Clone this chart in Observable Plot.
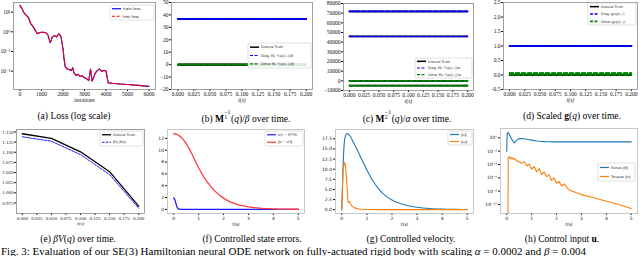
<!DOCTYPE html>
<html><head><meta charset="utf-8">
<script src="https://cdn.jsdelivr.net/npm/d3@7"></script>
<script src="https://cdn.jsdelivr.net/npm/@observablehq/plot@0.6"></script>
<style>
html,body{margin:0;padding:0;background:#fff;width:640px;height:256px;overflow:hidden;}
#wrap{position:relative;width:640px;height:256px;}
.cap{position:absolute;font-family:"Liberation Serif","DejaVu Serif",serif;font-size:9.5px;white-space:nowrap;transform:translateX(-50%);color:#000;line-height:1;}
.ss{display:inline-block;position:relative;width:0.75em;height:1em;vertical-align:baseline;}
.ss .u{position:absolute;left:0.05em;top:-0.3em;font-size:0.62em;line-height:1;}
.ss .d{position:absolute;left:0.05em;top:0.55em;font-size:0.62em;line-height:1;}
.fig{position:absolute;left:1px;top:246px;font-family:"Liberation Serif","DejaVu Serif",serif;font-size:11px;white-space:nowrap;color:#000;line-height:1;}
#over{position:absolute;left:0;top:0;pointer-events:none;}
</style></head><body><div id="wrap"></div>
<script>
// ---------- DATA ----------
const lossIterations = [0,100,200,300,400,500,600,700,800,900,1000,1100,1200,1300,1400,1450,1500,1600,1700,1800,1900,1950,2000,2050,2100,2200,2300,2400,2450,2500,2600,2700,2800,2900,3000,3100,3200,3250,3280,3320,3350,3400,3500,3600,3700,3800,3900,4000,4050,4100,4500,5000,5500,6000];
const trainLoss = [22,15,8.9,6.8,5.2,2.6,1.9,1.26,0.8,0.9,0.95,0.95,0.9,0.7,0.28,0.35,0.55,0.64,0.55,0.8,0.6,0.3,0.14,0.042,0.017,0.013,0.012,0.011,0.015,0.009,0.006,0.007,0.0053,0.006,0.0046,0.004,0.0034,0.008,0.013,0.006,0.0031,0.004,0.008,0.011,0.013,0.0097,0.011,0.0103,0.005,0.0025,0.0023,0.0021,0.0019,0.0017];
const testLoss = [21.5,14.6,8.7,6.9,5.1,2.55,1.92,1.24,0.81,0.9,0.94,0.96,0.89,0.71,0.29,0.36,0.54,0.63,0.56,0.79,0.61,0.31,0.14,0.043,0.017,0.0128,0.0121,0.0112,0.0148,0.0091,0.0061,0.0069,0.0054,0.0059,0.0047,0.0041,0.0035,0.0079,0.0127,0.0061,0.0032,0.0041,0.0079,0.0108,0.0128,0.0098,0.0109,0.0102,0.0051,0.0026,0.0023,0.0021,0.0019,0.0017];

const matTime = [0,0.025,0.05,0.075,0.1,0.125,0.15,0.175,0.2];
const m1TruthValues = [36.6,36.6,36.6,0,0,0];
const m1DiagValues = [36.5,36.7,36.6];
const m1OtherValues = [0.1,-0.1,0.05];
const m2TruthValues = [71800,71800,46000,0,-5000];
const m2DiagValues = [71700,71900,45900];
const m2OtherValues = [200,-100,-5100,-4900];
const gTruthValues = [1,1,1,0,0];
const gDiagValues = [1.0,1.01,0.99];
const gOtherValues = [0.0,0.01,0.06,0.07];

const vTime = [0,0.05,0.1,0.15,0.2];
const vTruth = [1.1455,1.134,1.101,1.052,0.967];
const vLearned = [1.138,1.127,1.094,1.045,0.962];

const ctrlTime = [0,0.05,0.1,0.15,0.2,0.25,0.3,0.35,0.4,0.5,0.6,0.75,1,1.25,1.5,1.75,2,2.25,2.5,2.75,3,3.5,4,4.5,5];
const rotError = [1.95,1.6,0.8,0.25,0.06,0.02,0.01,0.005,0.003,0.002,0.001,0,0,0,0,0,0,0,0,0,0,0,0,0,0];
const posError = [12.8,12.78,12.72,12.62,12.5,12.35,12.15,11.95,11.7,11.1,10.4,9.2,7.0,5.2,3.8,2.7,1.9,1.3,0.9,0.62,0.42,0.18,0.08,0.035,0.015];
const linVel = [0,10.5,16.5,18.3,18.8,18.7,18.4,18.0,17.4,16.2,15.0,13.0,9.8,7.0,4.9,3.4,2.4,1.7,1.2,0.85,0.6,0.28,0.13,0.06,0.03];
const angVel = [0,9.5,11.7,10.8,6.5,1.8,2.0,1.4,0.9,0.5,0.25,0.1,0.04,0.02,0.01,0,0,0,0,0,0,0,0,0,0];

const uTime = [0,0.02,0.05,0.06,0.1,0.15,0.2,0.25,0.3,0.4,0.5,0.6,0.7,0.8,0.9,1.0,1.1,1.2,1.3,1.4,1.5,1.6,1.7,1.8,1.9,2.0,2.1,2.2,2.3,2.5,2.75,3.0,3.5,4.0,4.5,5.0];
const forceNorm = [0.01,5,6.3,6,3.5,1.5,0.6,0.3,0.18,0.45,0.75,0.78,0.72,0.62,0.53,0.45,0.38,0.33,0.3,0.28,0.27,0.26,0.26,0.25,0.25,0.25,0.25,0.25,0.25,0.25,0.25,0.25,0.25,0.25,0.25,0.25];
const torqueNorm = [1e-14,1e-14,1e-14,1.0e-3,1.5e-3,7e-4,1.2e-3,6e-4,8e-4,3.5e-4,2.5e-4,1.5e-4,3e-4,6e-5,1.2e-4,2e-5,5e-5,8e-6,2.5e-5,3e-6,8e-6,1.5e-6,3e-6,4e-7,1e-6,1.5e-7,3e-7,6e-8,1.2e-7,1.5e-8,7e-9,3e-9,1e-9,3e-10,1e-10,2.5e-11];

const lossTicks = [10,1,0.1,0.01];
const iterTicks = [0,1000,2000,3000,4000,5000,6000];
const shortTicks = [0,0.025,0.05,0.075,0.1,0.125,0.15,0.175,0.2];
const longTicks = [0,1,2,3,4,5];
const uTicks = [1,1e-2,1e-4,1e-6,1e-8,1e-10];

// ---------- HELPERS ----------
const supMap = {"-":"⁻","0":"⁰","1":"¹","2":"²","3":"³","4":"⁴","5":"⁵","6":"⁶","7":"⁷","8":"⁸","9":"⁹"};
const pow10 = d => "10" + String(Math.round(Math.log10(d))).split("").map(c => supMap[c]).join("");
const fx = f => d => d3.format(f)(d).replace("-", "−");
const SERIF = "Liberation Serif, DejaVu Serif, serif";
const SANS = "DejaVu Sans, sans-serif";
const wrap = document.getElementById("wrap");

function panel(box, m, opts) {
  const [x0,y0,x1,y1] = box; const [mt,mr,mb,ml] = m;
  const svg = Plot.plot({
    width: x1-x0+ml+mr, height: y1-y0+mt+mb,
    marginTop: mt, marginRight: mr, marginBottom: mb, marginLeft: ml,
    ...opts,
    style: {position:"absolute", left:(x0-ml)+"px", top:(y0-mt)+"px", overflow:"visible", background:"transparent", color:"#111", maxWidth:"none", ...(opts.style||{})}
  });
  wrap.appendChild(svg);
}
function constRows(values, group) {
  const rows = [];
  values.forEach((v,i) => matTime.forEach(t => rows.push({t, v, id: group+i})));
  return rows;
}
const frameM = () => Plot.frame({stroke:"#888", strokeWidth:0.8});
const xlab = (txt, dy, fam, fs) => Plot.text([txt], {frameAnchor:"bottom", dy, fontStyle:"italic", fontFamily:fam, fontSize:fs, fill:"#111"});

// (a) loss
const lossRows = lossIterations.map((it,i) => ({it, train: trainLoss[i], test: testLoss[i]}));
panel([13,2,155,89], [2,3,18,13], {
  style:{fontFamily:SERIF, fontSize:"5.5px"},
  x:{domain:[-300,6300], ticks:iterTicks, tickFormat:d=>String(d), tickSize:2, tickPadding:1, label:null},
  y:{type:"log", domain:[10**-2.93,10**1.49], ticks:lossTicks, tickFormat:pow10, tickSize:2, tickPadding:1, label:null},
  marks:[
    Plot.line(lossRows, {x:"it", y:"train", stroke:"blue", strokeWidth:1.1}),
    Plot.line(lossRows, {x:"it", y:"test", stroke:"red", strokeWidth:1.1, strokeDasharray:"3,1.6"}),
    frameM(),
    Plot.text(["iterations"], {frameAnchor:"bottom", dy:12, fontFamily:SERIF, fontSize:5.5, fill:"#111"})
  ]
});

function matPanel(box, ml, yDomain, yTicks, yFmt, truth, diag, other) {
  panel(box, [2,3,18,ml], {
    style:{fontFamily:SERIF, fontSize:"5.5px"},
    x:{domain:[-0.01,0.21], ticks:shortTicks, tickFormat:fx(".3f"), tickSize:2, tickPadding:1, label:null},
    y:{domain:yDomain, ticks:yTicks, tickFormat:yFmt, tickSize:2, tickPadding:1, label:null},
    marks:[
      Plot.line(constRows(truth,"g"), {x:"t", y:"v", z:"id", stroke:"black", strokeWidth:1.6}),
      Plot.line(constRows(diag,"d"), {x:"t", y:"v", z:"id", stroke:"blue", strokeWidth:1.5, strokeDasharray:"4,2"}),
      Plot.line(constRows(other,"o"), {x:"t", y:"v", z:"id", stroke:"green", strokeWidth:1.5, strokeDasharray:"4,2"}),
      frameM(),
      xlab("t(s)", 12, SERIF, 5.5)
    ]
  });
}
matPanel([171,2,312,89], 20, [-20,50], [-20,-10,0,10,20,30,40,50], fx("d"), m1TruthValues, m1DiagValues, m1OtherValues);
matPanel([343,3,473,90], 25, [-10000,80000], [-10000,0,10000,20000,30000,40000,50000,60000,70000,80000], fx("d"), m2TruthValues, m2DiagValues, m2OtherValues);
matPanel([503,2,637,89], 20, [-0.5,2.5], [-0.5,0,0.5,1,1.5,2,2.5], fx(".1f"), gTruthValues, gDiagValues, gOtherValues);

// (e) potential
const vRows = vTime.map((t,i) => ({t, truth:vTruth[i], learned:vLearned[i]}));
panel([16,129,144,213], [2,3,18,16], {
  style:{fontFamily:SERIF, fontSize:"5px"},
  x:{domain:[-0.01,0.21], ticks:shortTicks, tickFormat:fx(".3f"), tickSize:2, tickPadding:1, label:null},
  y:{domain:[0.949,1.156], ticks:[0.975,1.0,1.025,1.05,1.075,1.1,1.125,1.15], tickFormat:fx(".3f"), tickSize:2, tickPadding:1, label:null},
  marks:[
    Plot.line(vRows, {x:"t", y:"truth", stroke:"black", strokeWidth:1.3}),
    Plot.line(vRows, {x:"t", y:"learned", stroke:"blue", strokeWidth:0.9, strokeDasharray:"2.5,1.2"}),
    frameM(),
    xlab("t(s)", 11.5, SERIF, 5)
  ]
});

const ctrlRows = ctrlTime.map((t,i) => ({t, rot:rotError[i], pos:posError[i], v:linVel[i], w:angVel[i]}));
const intFmt = d => String(d);
// (f) errors
panel([167,129,304,213], [2,3,18,15], {
  style:{fontFamily:SANS, fontSize:"4.5px"},
  x:{domain:[-0.25,5.25], ticks:longTicks, tickFormat:intFmt, tickSize:2, tickPadding:1.5, label:null},
  y:{domain:[-0.7,13.5], ticks:[0,2,4,6,8,10,12], tickFormat:intFmt, tickSize:2, tickPadding:1.5, label:null},
  marks:[
    Plot.line(ctrlRows, {x:"t", y:"rot", stroke:"#1a1aff", strokeWidth:1.3, curve:"monotone-x"}),
    Plot.line(ctrlRows, {x:"t", y:"pos", stroke:"#ff3b3b", strokeWidth:1.3, curve:"monotone-x"}),
    Plot.frame({stroke:"#bbb", strokeWidth:0.8}),
    xlab("t(s)", 12, SANS, 4.5)
  ]
});
// (g) velocity
panel([335,129,473,213], [2,3,18,15], {
  style:{fontFamily:SANS, fontSize:"4.5px"},
  x:{domain:[-0.25,5.25], ticks:longTicks, tickFormat:intFmt, tickSize:2, tickPadding:1.5, label:null},
  y:{domain:[-0.95,19.8], ticks:[0,2.5,5,7.5,10,12.5,15,17.5], tickFormat:fx(".1f"), tickSize:2, tickPadding:1.5, label:null},
  marks:[
    Plot.line(ctrlRows, {x:"t", y:"v", stroke:"#1f77b4", strokeWidth:1.1, curve:"monotone-x"}),
    Plot.line(ctrlRows, {x:"t", y:"w", stroke:"#ff7f0e", strokeWidth:1.1}),
    Plot.frame({stroke:"#bbb", strokeWidth:0.8}),
    xlab("t(s)", 12, SANS, 4.5)
  ]
});
// (h) control input
const uRows = uTime.map((t,i) => ({t, f:forceNorm[i], tau:torqueNorm[i]}));
panel([500,128,637,213], [2,3,18,20], {
  style:{fontFamily:SANS, fontSize:"4.5px"},
  x:{domain:[-0.25,5.25], ticks:longTicks, tickFormat:intFmt, tickSize:2, tickPadding:1.5, label:null},
  y:{type:"log", domain:[10**-11.35,10**1.4], ticks:uTicks, tickFormat:pow10, tickSize:2, tickPadding:1.5, label:null},
  marks:[
    Plot.line(uRows, {x:"t", y:"f", stroke:"#1f77b4", strokeWidth:1.1, clip:true}),
    Plot.line(uRows, {x:"t", y:"tau", stroke:"#ff7f0e", strokeWidth:1.1, clip:true}),
    Plot.frame({stroke:"#bbb", strokeWidth:0.8}),
    xlab("t(s)", 12, SANS, 4.5)
  ]
});

// ---------- LEGENDS ----------
const over = d3.select(wrap).append("svg").attr("id","over").attr("width",640).attr("height",256);
function legend(x0,y0,x1,y1, items, fs) {
  over.append("rect").attr("x",x0).attr("y",y0).attr("width",x1-x0).attr("height",y1-y0)
    .attr("rx",1).attr("fill","white").attr("fill-opacity",0.85).attr("stroke","#ccc").attr("stroke-width",0.6);
  const step = (y1-y0)/items.length;
  items.forEach((it,i) => {
    const cy = y0 + step*(i+0.5);
    over.append("line").attr("x1",x0+2).attr("x2",x0+11).attr("y1",cy).attr("y2",cy)
      .attr("stroke",it.c).attr("stroke-width",it.w||1.2).attr("stroke-dasharray",it.d||null);
    over.append("text").attr("x",x0+13).attr("y",cy).attr("dy","0.35em")
      .attr("font-family",SANS).attr("font-size",fs).attr("fill","#222").text(it.t);
  });
}
legend(110,5,154,20, [{t:"train loss", c:"blue"}, {t:"test loss", c:"red", d:"3,1.5"}], 3.8);
legend(248,43,311,68, [{t:"Ground Truth", c:"black", w:1.5}, {t:"Diag. M₁⁻¹(q)(i, i)/β", c:"blue", d:"3,1.5"}, {t:"Other M₁⁻¹(q)(i, j)/β", c:"green", d:"3,1.5"}], 3.4);
legend(415,58,472,78, [{t:"Ground Truth", c:"black", w:1.5}, {t:"Diag. M₂⁻¹(q)(i, i)/α", c:"blue", d:"3,1.5"}, {t:"Other M₂⁻¹(q)(i, j)/α", c:"green", d:"3,1.5"}], 3.4);
legend(588,3,636,25, [{t:"Ground Truth", c:"black", w:1.5}, {t:"Diag. g(q)(i, i)", c:"blue", d:"3,1.5", w:1.6}, {t:"Other g(q)(i, j)", c:"green", d:"3,1.5", w:1.6}], 3.4);
legend(100,131,143,146, [{t:"Ground Truth", c:"black", w:1.3}, {t:"βV_θ(q)", c:"blue", d:"2.5,1.2", w:0.9}], 3.4);
legend(265,131,303,146, [{t:"tr(I − R*ᵀR)", c:"#1a1aff"}, {t:"‖x − x*‖", c:"#ff3b3b"}], 3.4);
legend(448,131,472,145, [{t:"‖v‖", c:"#1f77b4"}, {t:"‖ω‖", c:"#ff7f0e"}], 3.4);
legend(598,163,635,181, [{t:"Forces ‖f‖", c:"#1f77b4"}, {t:"Torques ‖τ‖", c:"#ff7f0e"}], 3.4);

// ---------- CAPTIONS ----------
const caps = [
  [74,112,"(a) Loss (log scale)"],
  [246,112,'(b) <b>M</b><span class="ss"><span class="u">−1</span><span class="d">1</span></span>(<i>q</i>)/<i>β</i> over time.'],
  [407,112,'(c) <b>M</b><span class="ss"><span class="u">−1</span><span class="d">2</span></span>(<i>q</i>)/<i>α</i> over time.'],
  [572,112,'(d) Scaled <b>g</b>(<i>q</i>) over time.'],
  [78,235,'(e) <i>βV</i>(<i>q</i>) over time.'],
  [252,235,'(f) Controlled state errors.'],
  [411,235,'(g) Controlled velocity.'],
  [562,235,'(h) Control input <b>u</b>.']
];
caps.forEach(([x,y,h]) => {
  const d = document.createElement("div"); d.className = "cap";
  d.style.left = x+"px"; d.style.top = y+"px"; d.innerHTML = h; wrap.appendChild(d);
});
const fig = document.createElement("div"); fig.className = "fig";
fig.innerHTML = 'Fig. 3: Evaluation of our SE(3) Hamiltonian neural ODE network on fully-actuated rigid body with scaling <i>α</i> = 0.0002 and <i>β</i> = 0.004';
wrap.appendChild(fig);
</script></body></html>
